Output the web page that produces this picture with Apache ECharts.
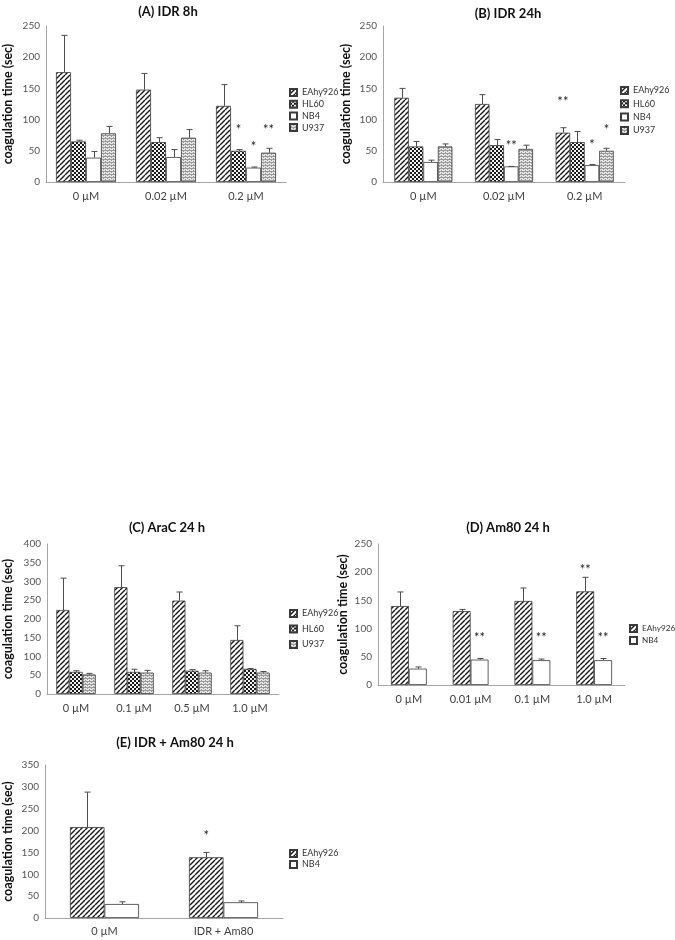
<!DOCTYPE html>
<html><head><meta charset="utf-8">
<script src="https://cdn.jsdelivr.net/npm/echarts@6/dist/echarts.min.js"></script>
<style>html,body{margin:0;padding:0;background:#fff}#c{width:675px;height:940px}</style>
</head><body><div id="c"></div>
<script>
// ---------- DATA ----------
const catsA = ['0 µM', '0.02 µM', '0.2 µM'];
const A_EAhy926 = [176, 148, 122], A_EAhy926_err = [235, 174, 156];
const A_HL60 = [65, 64, 50], A_HL60_err = [67, 71, 52];
const A_NB4 = [39, 40, 23], A_NB4_err = [49, 52, 24];
const A_U937 = [78, 71, 47], A_U937_err = [89, 84, 54];
const A_stars = [[2, 1, 89, '*'], [2, 2, 61, '*'], [2, 3, 88, '**']];

const catsB = ['0 µM', '0.02 µM', '0.2 µM'];
const B_EAhy926 = [135, 125, 79], B_EAhy926_err = [150, 140, 87];
const B_HL60 = [57, 59, 64], B_HL60_err = [65, 68, 81];
const B_NB4 = [32, 25, 27], B_NB4_err = [35, 25, 28];
const B_U937 = [57, 53, 50], B_U937_err = [61, 59, 54];
const B_stars = [[2, 0, 134, '**'], [1, 2, 63, '**'], [2, 2, 65, '*'], [2, 3, 89, '*']];

const catsC = ['0 µM', '0.1 µM', '0.5 µM', '1.0 µM'];
const C_EAhy926 = [224, 285, 249, 144], C_EAhy926_err = [309, 342, 272, 182];
const C_HL60 = [59, 59, 62, 67], C_HL60_err = [62, 66, 65, 68];
const C_U937 = [52, 57, 57, 57], C_U937_err = [55, 63, 62, 60];
const C_stars = [];

const catsD = ['0 µM', '0.01 µM', '0.1 µM', '1.0 µM'];
const D_EAhy926 = [140, 131, 149, 166], D_EAhy926_err = [165, 134, 172, 191];
const D_NB4 = [29, 45, 44, 44], D_NB4_err = [32, 47, 46, 47];
const D_stars = [[1, 1, 89, '**'], [2, 1, 89, '**'], [3, 1, 89, '**'], [3, 0, 210, '**']];

const catsE = ['0 µM', 'IDR + Am80'];
const E_EAhy926 = [208, 139], E_EAhy926_err = [288, 150];
const E_NB4 = [32, 36], E_NB4_err = [37, 39];
const E_stars = [[1, 0, 196, '*']];

const titles = ['(A) IDR 8h', '(B) IDR 24h', '(C) AraC 24 h', '(D) Am80 24 h', '(E) IDR + Am80 24 h'];
const yName = 'coagulation time (sec)';

// ---------- PATTERNS ----------
function mk(w, h, draw) { const c = document.createElement('canvas'); c.width = w; c.height = h; const g = c.getContext('2d'); draw(g); return c; }
const patHatch = mk(5, 5, g => {
  g.fillStyle = '#fff'; g.fillRect(0, 0, 5, 5);
  g.strokeStyle = '#1a1a1a'; g.lineWidth = 1.4;
  for (let k = -5; k <= 10; k += 5) { g.beginPath(); g.moveTo(k, 5); g.lineTo(k + 5, 0); g.stroke(); }
});
const patCheck = mk(4, 4, g => {
  g.fillStyle = '#1a1a1a'; g.fillRect(0, 0, 4, 4);
  g.fillStyle = '#f2f2f2'; g.fillRect(0, 0, 2, 2); g.fillRect(2, 2, 2, 2);
});
const patGray = mk(4, 3, g => {
  g.fillStyle = '#e6e6e6'; g.fillRect(0, 0, 4, 3);
  g.fillStyle = '#9a9a9a'; g.fillRect(0, 0, 4, 1); g.fillRect(1, 2, 1, 1); g.fillRect(3, 1, 1, 1);
});
const fills = {
  EAhy926: { image: patHatch, repeat: 'repeat' },
  HL60: { image: patCheck, repeat: 'repeat' },
  NB4: '#ffffff',
  U937: { image: patGray, repeat: 'repeat' }
};

// ---------- LAYOUT ----------
const FONT = 'Lato, "Open Sans", sans-serif';
const panels = [
  { cats: catsA, ser: [['EAhy926', A_EAhy926, A_EAhy926_err], ['HL60', A_HL60, A_HL60_err], ['NB4', A_NB4, A_NB4_err], ['U937', A_U937, A_U937_err]], stars: A_stars,
    grid: { left: 40, top: 26, width: 246, height: 156 }, max: 250, gap: 0.25, nameGap: 32, title: [163, 0], legend: [289, 88, 2.7, 9], labelMargin: 9 },
  { cats: catsB, ser: [['EAhy926', B_EAhy926, B_EAhy926_err], ['HL60', B_HL60, B_HL60_err], ['NB4', B_NB4, B_NB4_err], ['U937', B_U937, B_U937_err]], stars: B_stars,
    grid: { left: 383, top: 26, width: 242, height: 156 }, max: 250, gap: 0.28, nameGap: 31, title: [503, 2], legend: [620, 86, 4.3, 9], labelMargin: 9 },
  { cats: catsC, ser: [['EAhy926', C_EAhy926, C_EAhy926_err], ['HL60', C_HL60, C_HL60_err], ['U937', C_U937, C_U937_err]], stars: C_stars,
    grid: { left: 39, top: 544, width: 240, height: 150 }, max: 400, gap: 0.32, nameGap: 33, title: [162, 516], legend: [289, 609, 6.5, 9], labelMargin: 9 },
  { cats: catsD, ser: [['EAhy926', D_EAhy926, D_EAhy926_err], ['NB4', D_NB4, D_NB4_err]], stars: D_stars,
    grid: { left: 378, top: 544, width: 247, height: 141 }, max: 250, gap: 0.42, nameGap: 29, title: [503, 516], legend: [629, 624, 3, 8.2], labelMargin: 9 },
  { cats: catsE, ser: [['EAhy926', E_EAhy926, E_EAhy926_err], ['NB4', E_NB4, E_NB4_err]], stars: E_stars,
    grid: { left: 39, top: 765, width: 244, height: 153 }, max: 350, gap: 0.42, nameGap: 31, title: [170, 731], legend: [289, 849, 2, 9], labelMargin: 8 }
];

const option = { animation: false, backgroundColor: '#fff', title: [], legend: [], grid: [], xAxis: [], yAxis: [], series: [] };

panels.forEach((p, i) => {
  const n = p.ser.length;
  option.title.push({ text: titles[i], left: p.title[0], top: p.title[1], textAlign: 'center',
    textStyle: { fontFamily: FONT, fontSize: 13, fontWeight: 'bold', color: '#111' } });
  option.grid.push(p.grid);
  option.xAxis.push({ type: 'category', gridIndex: i, data: p.cats,
    axisLine: { lineStyle: { color: '#a6a6a6', width: 1 } }, axisTick: { show: false },
    axisLabel: { fontFamily: FONT, fontSize: 11, color: '#404040', margin: p.labelMargin } });
  option.yAxis.push({ type: 'value', gridIndex: i, min: 0, max: p.max, interval: 50,
    name: yName, nameLocation: 'middle', nameGap: p.nameGap,
    nameTextStyle: { fontFamily: FONT, fontSize: 12.5, fontWeight: 'bold', color: '#111' },
    axisLine: { show: true, lineStyle: { color: '#a6a6a6', width: 1 } }, axisTick: { show: false },
    splitLine: { show: false },
    axisLabel: { fontFamily: FONT, fontSize: 10, color: '#555', margin: 6 } });
  option.legend.push({ left: p.legend[0], top: p.legend[1], orient: 'vertical', itemGap: p.legend[2],
    itemWidth: 7, itemHeight: 7, icon: 'rect', selectedMode: false, padding: 0,
    data: p.ser.map(s => s[0]),
    textStyle: { fontFamily: FONT, fontSize: p.legend[3], lineHeight: 8, color: '#333' } });
  p.ser.forEach(s => {
    option.series.push({ type: 'bar', name: s[0], xAxisIndex: i, yAxisIndex: i, data: s[1],
      barGap: '0%', barCategoryGap: (p.gap * 100) + '%',
      itemStyle: { color: fills[s[0]], borderColor: '#3a3a3a', borderWidth: 0.8 } });
  });
  // error bars
  const errData = [];
  p.ser.forEach((s, si) => s[1].forEach((v, ci) => errData.push([ci, v, s[2][ci], si])));
  const gap = p.gap;
  option.series.push({ type: 'custom', name: 'err' + i, xAxisIndex: i, yAxisIndex: i, data: errData,
    encode: { x: 0, y: 2 }, z: 5,
    renderItem: (params, api) => {
      const ci = api.value(0), v = api.value(1), e = api.value(2), si = api.value(3);
      const c = api.coord([ci, v]), t = api.coord([ci, e]);
      const band = api.size([1, 0])[0];
      const gw = band * (1 - gap), bw = gw / n;
      const x = Math.round(c[0] - gw / 2 + (si + 0.5) * bw) + 0.5;
      const st = { stroke: '#4d4d4d', lineWidth: 1 };
      return { type: 'group', children: [
        { type: 'line', shape: { x1: x, y1: c[1], x2: x, y2: t[1] }, style: st },
        { type: 'line', shape: { x1: x - 3, y1: t[1], x2: x + 3, y2: t[1] }, style: st }
      ] };
    } });
  // significance stars
  option.series.push({ type: 'custom', name: 'star' + i, xAxisIndex: i, yAxisIndex: i, data: p.stars,
    encode: { x: 0, y: 2 }, z: 6,
    renderItem: (params, api) => {
      const ci = api.value(0), si = api.value(1), y = api.value(2);
      const c = api.coord([ci, y]);
      const band = api.size([1, 0])[0];
      const gw = band * (1 - gap), bw = gw / n;
      const x = c[0] - gw / 2 + (si + 0.5) * bw;
      return { type: 'text', x: x, y: c[1] + 3,
        style: { text: p.stars[params.dataIndex][3], fontFamily: FONT, fontSize: 13, fill: '#222', align: 'center', verticalAlign: 'middle' } };
    } });
});

const chart = echarts.init(document.getElementById('c'), null, { renderer: 'canvas' });
chart.setOption(option);
</script></body></html>
